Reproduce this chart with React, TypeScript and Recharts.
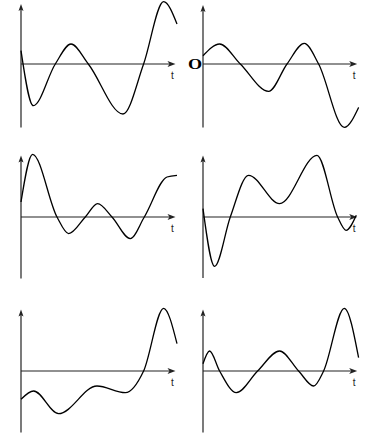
import { LineChart, Line, XAxis, YAxis, ReferenceLine } from 'recharts'

// six curves, t / value pairs (1 unit ≈ 10px)
const P1_T = [0, 1.23, 3.43, 5.0, 6.73, 10.2, 12.26, 14.26, 15.6]
const P1_V = [1.33, -4.17, 0, 2.0, 0, -5.0, 0, 6.23, 4.0]

const P2_T = [0, 1.66, 3.73, 6.56, 8.4, 10.13, 11.56, 14.13, 15.56]
const P2_V = [0.83, 2.0, 0, -2.74, 0, 2.06, 0, -6.34, -4.34]

const P3_T = [0, 1.16, 3.6, 4.76, 6.43, 7.66, 9.1, 10.93, 12.33, 14.6, 15.6]
const P3_V = [1.5, 6.27, 0, -1.66, 0, 1.34, 0, -2.16, 0, 4.0, 4.17]

const P4_T = [0, 1.16, 2.73, 4.56, 7.66, 11.4, 13.46, 14.3, 15.33]
const P4_V = [0.84, -4.93, 0, 4.17, 1.34, 6.17, 0, -1.33, 0.17]

const P5_T = [0, 1.26, 3.76, 7.6, 10.43, 12.26, 14.26, 15.6]
const P5_V = [-2.83, -2.0, -4.27, -1.5, -2.17, 0, 6.27, 2.73]

const P6_T = [0, 0.66, 1.66, 3.33, 5.46, 7.66, 9.56, 11.06, 12.06, 14.13, 15.56]
const P6_V = [0.73, 2.0, 0, -2.17, 0, 2.0, 0, -1.5, 0, 6.27, 1.33]

const AXIS = '#222'

function ArrowX(props: any) {
  const { x1, y1, x2, origin } = props
  const start = Math.min(x1, x2)
  const tip = Math.max(x1, x2)
  return (
    <g>
      <line x1={start} y1={y1} x2={tip - 4} y2={y1} stroke={AXIS} strokeWidth={1.2} />
      <path d={`M${tip},${y1} L${tip - 8},${y1 - 3} L${tip - 6},${y1} L${tip - 8},${y1 + 3} Z`} fill={AXIS} />
      <text x={tip - 3} y={y1 + 15} textAnchor="middle" fontSize={10} fontFamily="Liberation Sans, Arial, sans-serif" fill="#222">t</text>
      {origin && (
        <text
          transform={`translate(${start - 8}, ${y1 + 5}) scale(1.3, 1)`}
          textAnchor="middle"
          fontSize={14}
          fontWeight="bold"
          fontFamily="Liberation Serif, Times New Roman, serif"
          fill="#000"
        >
          O
        </text>
      )}
    </g>
  )
}

function ArrowY(props: any) {
  const { x1, y1, y2 } = props
  const tip = Math.min(y1, y2)
  const bottom = Math.max(y1, y2)
  return (
    <g>
      <line x1={x1} y1={bottom} x2={x1} y2={tip + 4} stroke={AXIS} strokeWidth={1.2} />
      <path d={`M${x1},${tip} L${x1 - 2.5},${tip + 7} L${x1},${tip + 5.5} L${x1 + 2.5},${tip + 7} Z`} fill={AXIS} />
    </g>
  )
}

interface PanelProps {
  x0: number
  y0: number
  t: number[]
  v: number[]
  axisTop: number
  axisBottom: number
  axisEnd: number
  origin?: boolean
}

function Panel({ x0, y0, t, v, axisTop, axisBottom, axisEnd, origin }: PanelProps) {
  const data = t.map((tt, i) => ({ t: tt, v: v[i] }))
  return (
    <div style={{ position: 'absolute', left: x0 - 20, top: y0 - 70 }}>
      <LineChart width={180} height={140} data={data} margin={{ top: 0, right: 0, bottom: 0, left: 0 }}>
        <XAxis type="number" dataKey="t" domain={[-2, 16]} hide allowDataOverflow />
        <YAxis type="number" domain={[-7, 7]} hide allowDataOverflow />
        <ReferenceLine
          segment={[{ x: 0, y: axisBottom }, { x: 0, y: axisTop }]}
          shape={ArrowY}
          ifOverflow="visible"
        />
        <ReferenceLine
          segment={[{ x: 0, y: 0 }, { x: axisEnd, y: 0 }]}
          shape={(p: any) => <ArrowX {...p} origin={origin} />}
          ifOverflow="visible"
        />
        <Line
          type="monotone"
          dataKey="v"
          stroke="#000"
          strokeWidth={1.3}
          dot={false}
          activeDot={false}
          isAnimationActive={false}
        />
      </LineChart>
    </div>
  )
}

export default function App() {
  return (
    <div style={{ position: 'absolute', left: 0, top: 0, width: 365, height: 433, overflow: 'hidden', background: '#fff' }}>
      <Panel x0={20.5} y0={63.5} t={P1_T} v={P1_V} axisTop={6.0} axisBottom={-6.35} axisEnd={15.45} />
      <Panel x0={202.5} y0={63.5} t={P2_T} v={P2_V} axisTop={5.9} axisBottom={-6.35} axisEnd={15.42} origin />
      <Panel x0={20.5} y0={216.5} t={P3_T} v={P3_V} axisTop={6.15} axisBottom={-6.15} axisEnd={15.45} />
      <Panel x0={202.5} y0={216.5} t={P4_T} v={P4_V} axisTop={6.15} axisBottom={-6.1} axisEnd={15.42} />
      <Panel x0={20.5} y0={370.5} t={P5_T} v={P5_V} axisTop={6.15} axisBottom={-6.15} axisEnd={15.45} />
      <Panel x0={202.5} y0={370.5} t={P6_T} v={P6_V} axisTop={6.15} axisBottom={-6.15} axisEnd={15.42} />
    </div>
  )
}
